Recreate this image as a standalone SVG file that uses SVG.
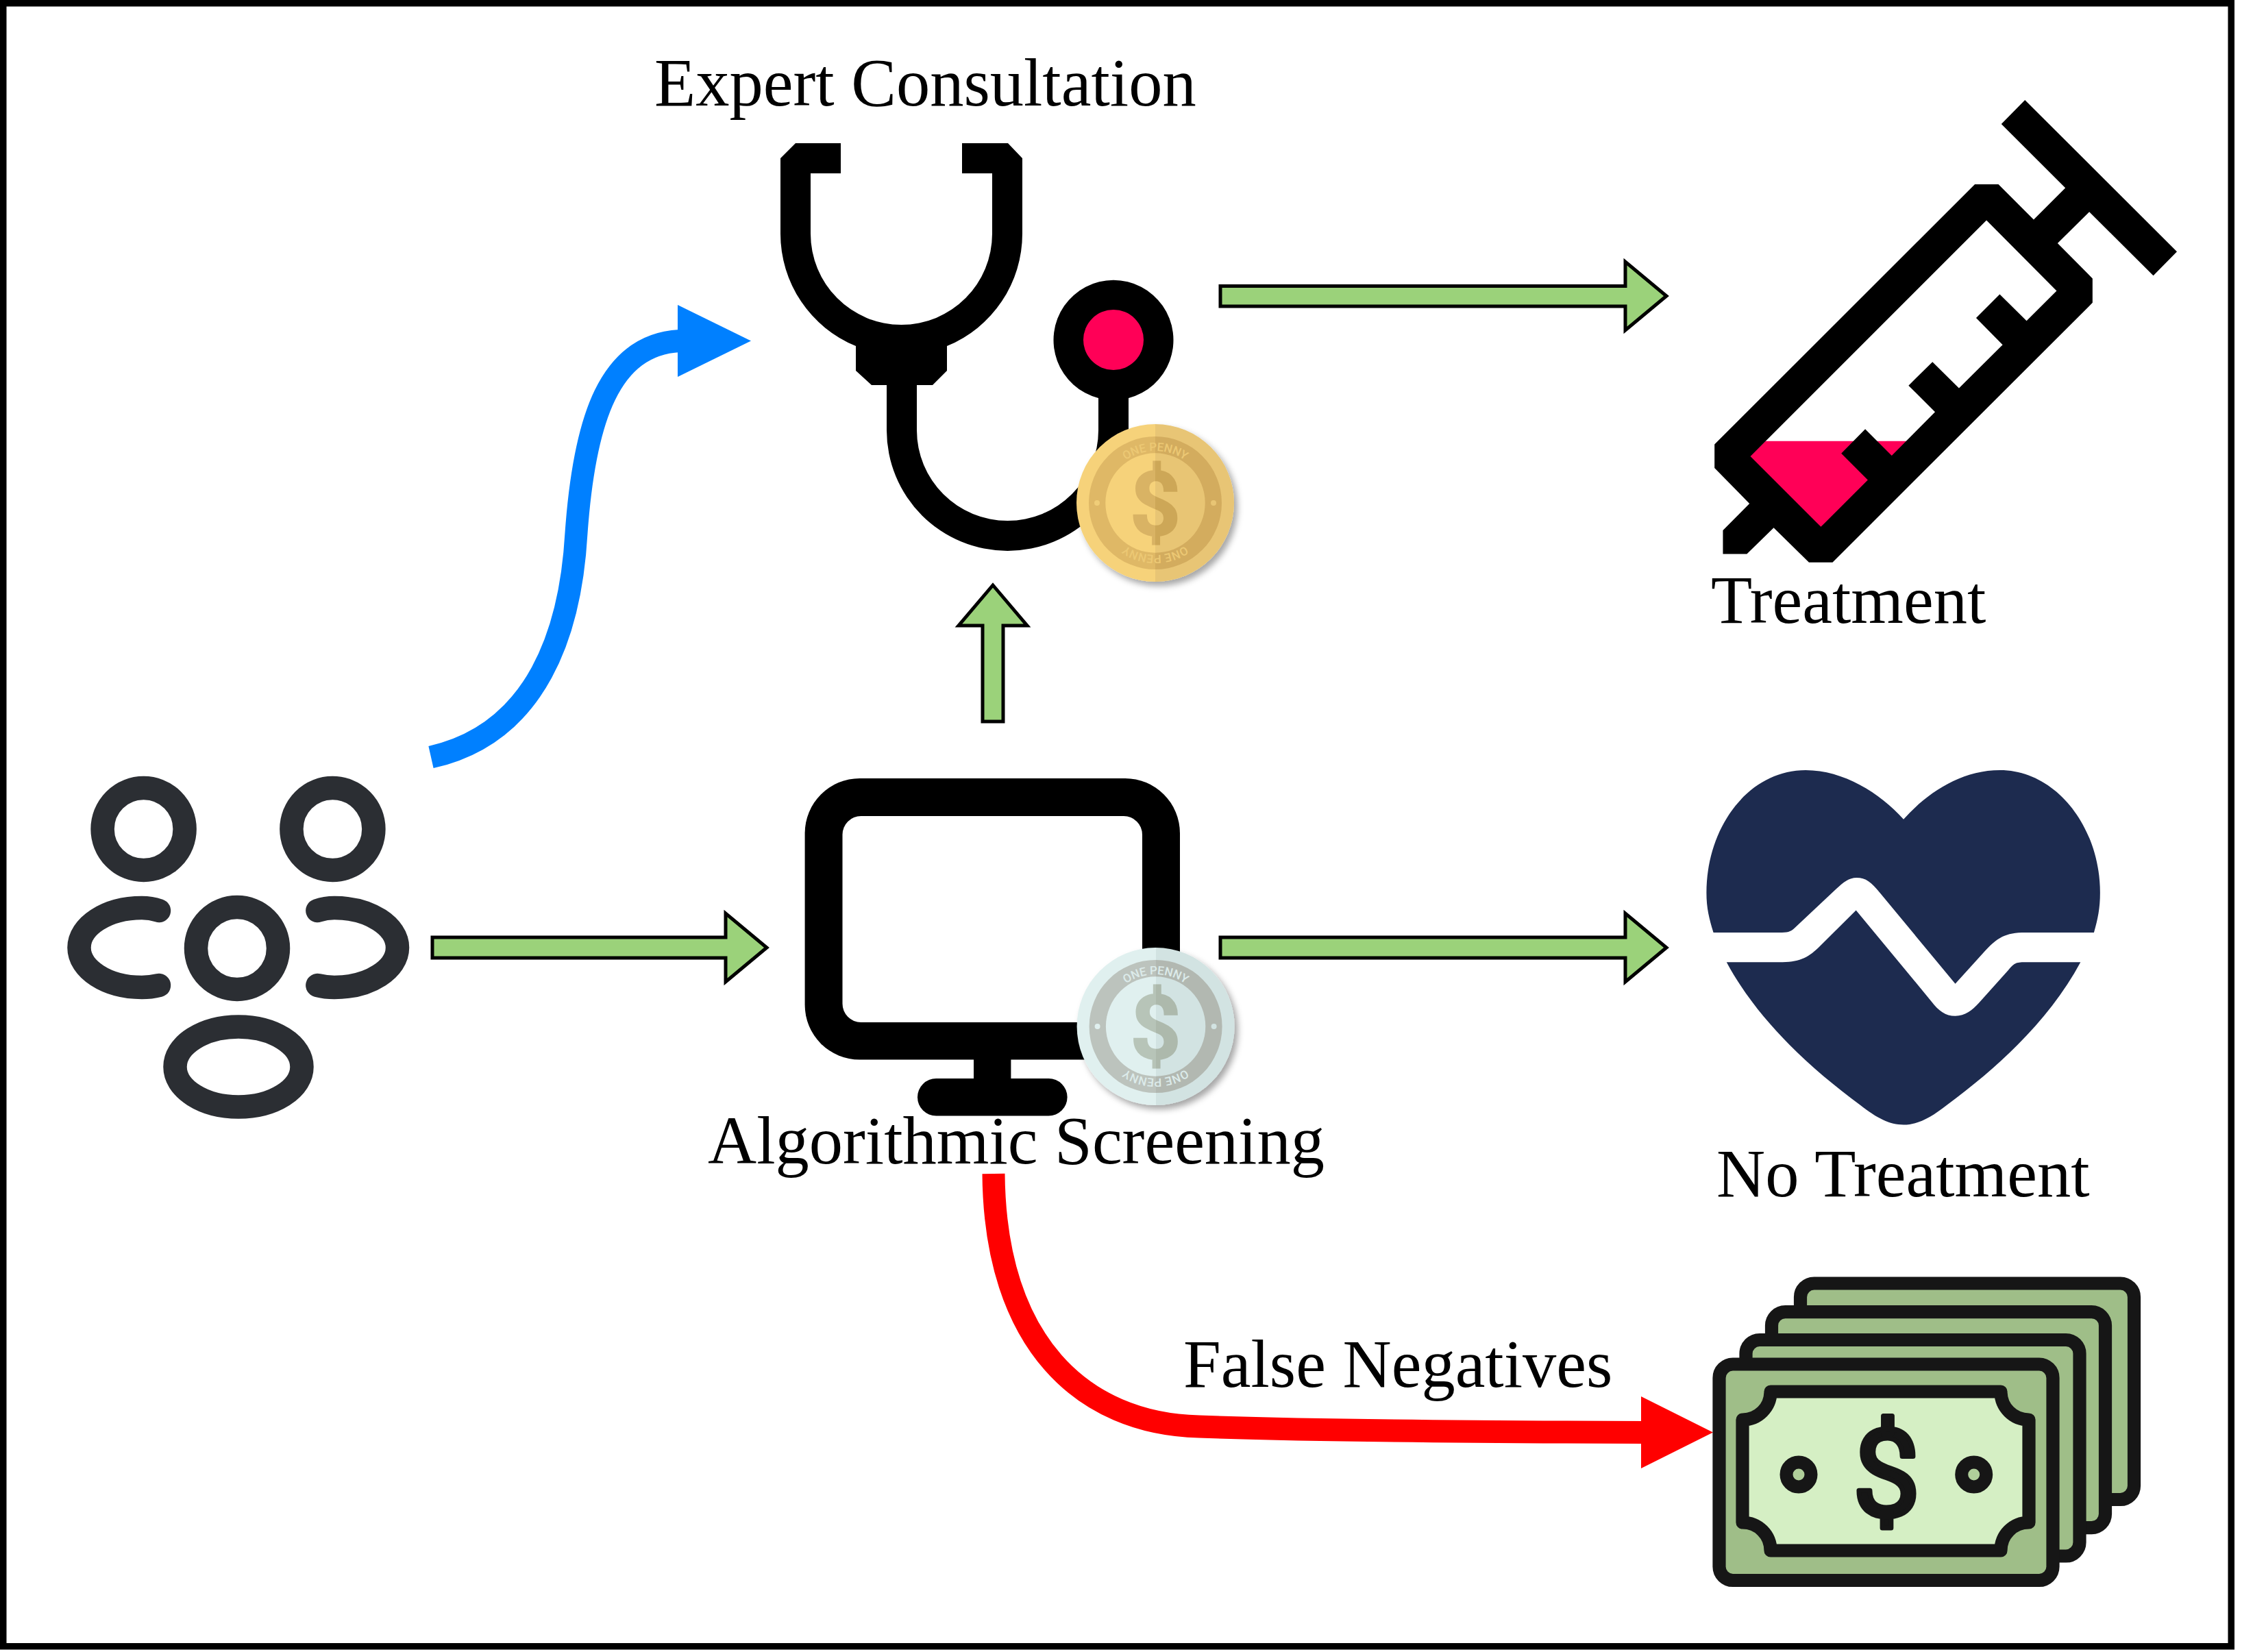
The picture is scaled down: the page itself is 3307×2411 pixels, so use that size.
<svg xmlns="http://www.w3.org/2000/svg" width="3307" height="2411" viewBox="0 0 3307 2411">
<style>
.lbl{font-family:"Liberation Serif","Times New Roman",serif;font-size:98.5px;fill:#000}
.blk{fill:#000}
.pink{fill:#ff0057}
.arrow{fill:#9bd27a;stroke:#000;stroke-width:5}
.ppl{fill:none;stroke:#2b2e33;stroke-width:34.5;stroke-linecap:round}
.bill{fill:#9fbe88;stroke:#161616;stroke-width:19.2}
.pen{font-family:"Roboto","Liberation Sans",sans-serif;font-size:17px;font-weight:500;text-anchor:middle}
.dol{font-family:"Roboto","Liberation Sans",Arial,sans-serif;font-weight:700;font-size:130px;text-anchor:middle}
</style>
<defs>
<filter id="sh" x="-30%" y="-30%" width="160%" height="160%"><feDropShadow dx="5" dy="6" stdDeviation="5" flood-color="#000" flood-opacity=".35"/></filter>
<marker id="mb" markerUnits="userSpaceOnUse" markerWidth="107" markerHeight="105" viewBox="0 0 107 105" refX="3" refY="52.5" orient="0"><polygon points="0,0 107,52.5 0,105" fill="#0080ff"/></marker>
<marker id="mr" markerUnits="userSpaceOnUse" markerWidth="105" markerHeight="105" viewBox="0 0 105 105" refX="3" refY="52.5" orient="0"><polygon points="0,0 105,52.5 0,105" fill="#f00"/></marker>
<linearGradient id="gA" gradientUnits="userSpaceOnUse" x1="-115" x2="115" y1="0" y2="0"><stop offset=".5" stop-color="#f6d27a"/><stop offset=".5" stop-color="#e8c574"/></linearGradient>
<linearGradient id="gB" gradientUnits="userSpaceOnUse" x1="-115" x2="115" y1="0" y2="0"><stop offset=".5" stop-color="#dfb866"/><stop offset=".5" stop-color="#d3ac5e"/></linearGradient>
<linearGradient id="gC" gradientUnits="userSpaceOnUse" x1="-115" x2="115" y1="0" y2="0"><stop offset=".5" stop-color="#d9b364"/><stop offset=".5" stop-color="#cda757"/></linearGradient>
<linearGradient id="sA" gradientUnits="userSpaceOnUse" x1="-115" x2="115" y1="0" y2="0"><stop offset=".5" stop-color="#e0f0ef"/><stop offset=".5" stop-color="#d2e3e2"/></linearGradient>
<linearGradient id="sB" gradientUnits="userSpaceOnUse" x1="-115" x2="115" y1="0" y2="0"><stop offset=".5" stop-color="#bcc3bd"/><stop offset=".5" stop-color="#b2b8b1"/></linearGradient>
<linearGradient id="sC" gradientUnits="userSpaceOnUse" x1="-115" x2="115" y1="0" y2="0"><stop offset=".5" stop-color="#b7c4b8"/><stop offset=".5" stop-color="#adb9ac"/></linearGradient>
<path id="arc" d="M-76 0A76 76 0 0 1 76 0"/>
</defs>
<rect width="3307" height="2411" fill="#fff"/>
<rect x="4.75" y="4.75" width="3251.5" height="2398" fill="none" stroke="#000" stroke-width="9.5"/>

<g id="connectors">
<polygon class="arrow" points="1781,417.5 2372,417.5 2372,382 2432,432 2372,482 2372,447 1781,447"/>
<polygon class="arrow" points="631,1368 1059,1368 1059,1333 1119,1383 1059,1433 1059,1398 631,1398"/>
<polygon class="arrow" points="1781,1368 2372,1368 2372,1333 2432,1383 2372,1433 2372,1398 1781,1398"/>
<polygon class="arrow" points="1434,1053 1434,913 1399,913 1449,854 1499,913 1464,913 1464,1053"/>
<path d="M629 1105C785 1070 833 920 841 778C853 610 890 503 992 497.5" fill="none" stroke="#0080ff" stroke-width="33" marker-end="url(#mb)"/>
<path d="M1450 1713C1452 1960 1580 2078 1750 2082C1950 2089 2200 2090 2398 2090.5" fill="none" stroke="#f00" stroke-width="33" marker-end="url(#mr)"/>
</g>

<g id="node-people">
<circle class="ppl" cx="209.6" cy="1210" r="60"/>
<circle class="ppl" cx="485.4" cy="1210" r="60"/>
<circle class="ppl" cx="346" cy="1384" r="60"/>
<ellipse class="ppl" cx="348" cy="1557" rx="92.5" ry="58.5"/>
<path class="ppl" d="M232 1329Q220 1325 207 1325C155 1325 115.5 1352 115.5 1383C115.5 1414 155 1441 207 1441Q220 1441 232 1438"/>
<path class="ppl" d="M463.4 1329Q475 1325 488 1325C540 1325 580 1352 580 1383C580 1414 540 1441 488 1441Q475 1441 463.4 1438"/>
</g>

<g id="node-stethoscope">
<text class="lbl" x="955" y="154">Expert Consultation</text>
<path class="blk" d="M1227 209H1161L1139 231V341A176.5 177 0 0 0 1249 505V541L1272 562H1294V628A176.5 176 0 0 0 1647 628V581A87.5 87.5 0 1 0 1603 581V628A132.5 132 0 0 1 1338 628V562H1361L1382 541V505A176.5 177 0 0 0 1492 341V231L1471 209H1404V253H1448V341A132.5 133 0 0 1 1183 341V253H1227Z"/>
<circle class="pink" cx="1625" cy="496" r="44"/>
<g transform="translate(1686 734)">
<circle r="115" fill="url(#gA)" filter="url(#sh)"/>
<circle r="97" fill="url(#gB)"/>
<circle r="72.7" fill="url(#gA)"/>
<circle cx="-85" r="4" fill="#f0cd78"/><circle cx="85" r="4" fill="#e8c574"/>
<text class="pen" fill="#ecc874"><textPath href="#arc" startOffset="50%">ONE PENNY</textPath></text>
<g transform="rotate(180)"><text class="pen" fill="#ecc874"><textPath href="#arc" startOffset="50%">ONE PENNY</textPath></text></g>
<text class="dol" y="47" fill="url(#gC)" stroke="url(#gC)" stroke-width="2">$</text>
</g>
</g>

<g id="node-syringe" transform="translate(2480 120) scale(.4719)">
<polygon class="pink" points="205,1110 645,1110 376,1378 155,1157"/>
<path class="blk" fill-rule="evenodd" d="M1007,55L1477,524L1404,598L1206,401L1108,498L1216,607V682L412,1485H339L230,1378L147,1459H73V1386L155,1303L47,1193V1120L852,316H925L1034,425L1132,327L934,129ZM888,427L1105,645L1012,738L929,656L856,729L938,812L803,946L721,865L647,938L729,1020L595,1155L513,1073L439,1148L521,1230L376,1375L158,1157Z"/>
</g>
<text class="lbl" x="2497" y="909">Treatment</text>

<g id="node-monitor">
<rect x="1174.6" y="1136" width="547.4" height="410.6" rx="80" class="blk"/>
<rect x="1229.5" y="1191" width="437.5" height="301" rx="27" fill="#fff"/>
<rect x="1421" y="1540" width="54.4" height="40" class="blk"/>
<rect x="1339" y="1574" width="218.6" height="54.6" rx="27.3" class="blk"/>
<g transform="translate(1686.6 1498)">
<circle r="115" fill="url(#sA)" filter="url(#sh)"/>
<circle r="97" fill="url(#sB)"/>
<circle r="72.7" fill="url(#sA)"/>
<circle cx="-85" r="4" fill="#e0f0ef"/><circle cx="85" r="4" fill="#d2e3e2"/>
<text class="pen" fill="#dcebea"><textPath href="#arc" startOffset="50%">ONE PENNY</textPath></text>
<g transform="rotate(180)"><text class="pen" fill="#dcebea"><textPath href="#arc" startOffset="50%">ONE PENNY</textPath></text></g>
<text class="dol" y="47" fill="url(#sC)" stroke="url(#sC)" stroke-width="2">$</text>
</g>
<text class="lbl" x="1033" y="1698">Algorithmic Screening</text>
</g>

<g id="node-heart">
<g transform="translate(2470 1100) scale(.408 .3827)" fill="#1d2b4f">
<path d="M755,250C670,150 540,63 405,63C200,63 50,280 50,530C50,590 60,630 75,682H310C340,682 350,680 365,665L515,515C540,490 560,473 587,473C620,473 640,490 670,530L940,877L1040,760C1090,700 1120,682 1190,682H1436C1450,630 1458,590 1458,530C1458,280 1300,63 1100,63C960,63 840,150 755,250Z"/>
<path d="M122,795H310C380,795 410,780 450,740L585,597L855,945C880,980 905,1000 940,1000C975,1000 1000,980 1025,950L1130,825C1150,800 1155,795 1190,795H1388C1280,1010 1100,1190 910,1340C850,1390 805,1415 755,1415C705,1415 660,1390 600,1340C410,1190 230,1010 122,795Z"/>
</g>
<text class="lbl" x="2505" y="1746">No Treatment</text>
</g>

<g id="node-money">
<rect class="bill" x="2627.5" y="1873" width="487" height="315.5" rx="20"/>
<rect class="bill" x="2585.5" y="1914.6" width="487" height="315" rx="20"/>
<rect class="bill" x="2548" y="1955.5" width="487" height="315.5" rx="20"/>
<rect class="bill" x="2509" y="1991" width="487" height="315.5" rx="20"/>
<path d="M2584 2031H2920C2920 2054 2938 2072 2961 2072V2222C2938 2222 2920 2240 2920 2263H2584C2584 2240 2566 2222 2543 2222V2072C2566 2072 2584 2054 2584 2031Z" fill="#d5efc4" stroke="#161616" stroke-width="19.2" stroke-linejoin="round"/>
<circle cx="2625" cy="2152" r="18" fill="#b0cf9a" stroke="#161616" stroke-width="19"/>
<circle cx="2880.7" cy="2152" r="18" fill="#b0cf9a" stroke="#161616" stroke-width="19"/>
<text x="2753" y="2212" text-anchor="middle" font-family="Roboto,'Liberation Sans',Arial,sans-serif" font-size="176" fill="#161616" stroke="#161616" stroke-width="7" stroke-linejoin="round">$</text>
</g>
<text class="lbl" x="1727" y="2024">False Negatives</text>
</svg>
